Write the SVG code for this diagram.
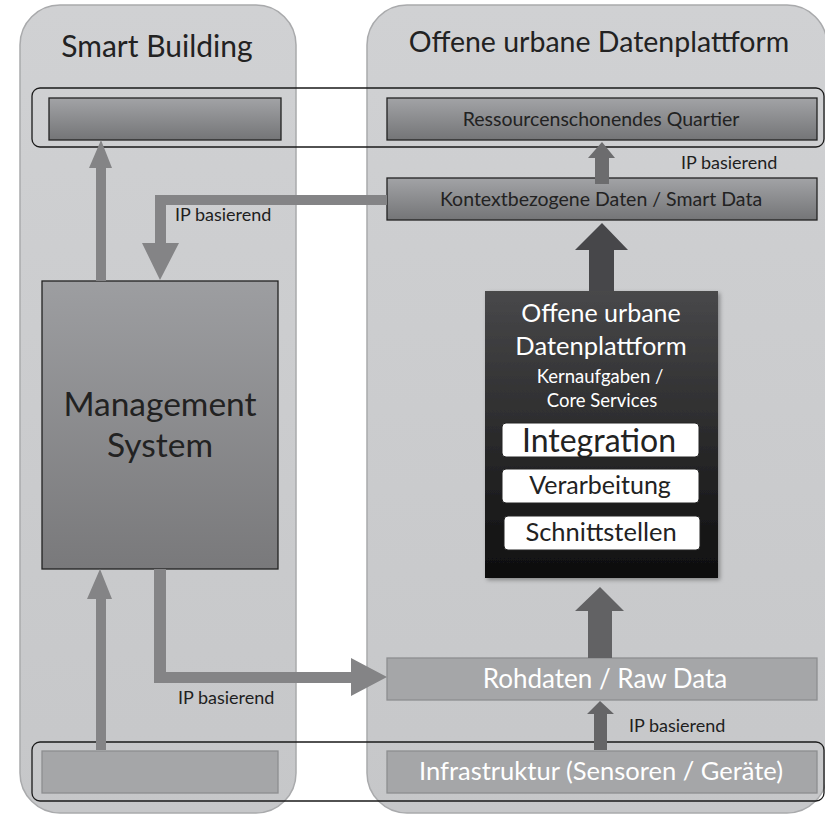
<svg xmlns="http://www.w3.org/2000/svg" width="825" height="815" viewBox="0 0 825 815">
<defs>
<linearGradient id="gBar" x1="0" y1="0" x2="0" y2="1"><stop offset="0" stop-color="#a2a3a6"/><stop offset="1" stop-color="#747577"/></linearGradient>
<linearGradient id="gMgmt" x1="0" y1="0" x2="0" y2="1"><stop offset="0" stop-color="#9d9ea1"/><stop offset="1" stop-color="#79797b"/></linearGradient>
<linearGradient id="gBlack" x1="0" y1="0" x2="0" y2="1"><stop offset="0" stop-color="#48484a"/><stop offset="1" stop-color="#0e0e0e"/></linearGradient>
<linearGradient id="gPanel" x1="0" y1="0" x2="0" y2="1"><stop offset="0" stop-color="#d0d1d3"/><stop offset="1" stop-color="#c6c7c9"/></linearGradient>
<filter id="sh" x="-10%" y="-10%" width="130%" height="130%"><feDropShadow dx="2" dy="2" stdDeviation="2" flood-color="#000" flood-opacity="0.35"/></filter>
</defs>
<style>
text{font-family:Lato,"Open Sans","Liberation Sans",sans-serif;}
.panel{fill:url(#gPanel);stroke:#a9aaac;stroke-width:1.5;}
.grp{fill:none;stroke:#1a1a1a;stroke-width:1.3;}
.bar{fill:url(#gBar);stroke:#222;stroke-width:1.3;}
.lbar{fill:#a5a6a8;stroke:#8d8e90;stroke-width:1.3;}
.wbox{fill:#fff;stroke:#222;stroke-width:1;}
.dk{fill:#222;}
.wt{fill:#fff;}
.ip{font-size:18px;fill:#1e1e1e;}
</style>
<g id="panel-smart-building">
<rect class="panel" x="20" y="5" width="276" height="808" rx="40"/>
<text x="157" y="57" text-anchor="middle" font-size="30" class="dk">Smart Building</text>
</g>
<g id="panel-datenplattform">
<rect class="panel" x="367" y="5" width="460" height="808" rx="40"/>
<text x="599" y="52" text-anchor="middle" font-size="28.5" class="dk">Offene urbane Datenplattform</text>
</g>
<g id="group-top"><rect class="grp" x="32" y="88" width="792" height="59" rx="8"/></g>
<g id="group-bottom"><rect class="grp" x="32" y="742" width="792" height="59" rx="8"/></g>
<g id="sb-top"><rect class="bar" x="49" y="98" width="232" height="42"/></g>
<g id="quartier">
<rect class="bar" x="387" y="98" width="430" height="42"/>
<text x="601" y="126" text-anchor="middle" font-size="19.5" class="dk">Ressourcenschonendes Quartier</text>
</g>
<g id="smartdata">
<rect class="bar" x="387" y="178" width="430" height="42"/>
<text x="601" y="206" text-anchor="middle" font-size="19.5" class="dk">Kontextbezogene Daten / Smart Data</text>
</g>
<g id="management">
<rect x="42" y="281" width="236" height="288" fill="url(#gMgmt)" stroke="#222" stroke-width="1.3"/>
<text x="160" y="416" text-anchor="middle" font-size="33.5" class="dk">Management</text>
<text x="160" y="457" text-anchor="middle" font-size="33.5" class="dk">System</text>
</g>
<g id="sb-bottom"><rect class="lbar" x="42" y="751" width="236" height="42"/></g>
<g id="rohdaten">
<rect class="lbar" x="387" y="658" width="430" height="42"/>
<text x="605" y="688" text-anchor="middle" font-size="26" class="wt">Rohdaten / Raw Data</text>
</g>
<g id="infrastruktur">
<rect class="lbar" x="387" y="751" width="430" height="42"/>
<text x="601" y="780" text-anchor="middle" font-size="25.5" class="wt">Infrastruktur (Sensoren / Geräte)</text>
</g>
<g id="core">
<rect x="485" y="291" width="233" height="287" fill="url(#gBlack)" filter="url(#sh)"/>
<text x="601" y="322" text-anchor="middle" font-size="25" class="wt">Offene urbane</text>
<text x="601" y="355" text-anchor="middle" font-size="25.5" class="wt">Datenplattform</text>
<text x="600" y="383" text-anchor="middle" font-size="18.5" class="wt">Kernaufgaben /</text>
<text x="602" y="407" text-anchor="middle" font-size="18.5" class="wt">Core Services</text>
<rect class="wbox" x="502" y="423" width="197" height="34" rx="4"/>
<text x="599" y="452" text-anchor="middle" font-size="32" class="dk">Integration</text>
<rect class="wbox" x="502" y="469" width="197" height="34" rx="4"/>
<text x="600" y="494" text-anchor="middle" font-size="25" class="dk">Verarbeitung</text>
<rect class="wbox" x="504" y="516" width="196" height="34" rx="4"/>
<text x="601" y="541" text-anchor="middle" font-size="25.5" class="dk">Schnittstellen</text>
</g>
<g id="connectors">
<polygon fill="#848486" points="387,195 155,195 155,243 142,243 160,280 179,243 166,243 166,205 387,205"/>
<polygon fill="#848486" points="96,281 96,168 89,168 101,140 112,168 106,168 106,281"/>
<polygon fill="#848486" points="96,750 96,599 87,599 100,569 112,599 106,599 106,750"/>
<polygon fill="#848486" points="154,569 154,683 351,683 351,696 387,677 351,658 351,672 166,672 166,569"/>
<polygon fill="#6c6c6e" points="595,184 595,158 588,158 602,142 615,158 609,158 609,184"/>
<polygon fill="#47474a" points="589,291 589,250 575,250 602,223 628,250 614,250 614,291"/>
<polygon fill="#626264" points="588,658 588,611 575,611 600,587 624,611 612,611 612,658"/>
<polygon fill="#656567" points="594,750 594,714 587,714 600,701 614,714 607,714 607,750"/>
<text class="ip" x="175" y="221">IP basierend</text>
<text class="ip" x="681" y="169">IP basierend</text>
<text class="ip" x="178" y="704">IP basierend</text>
<text class="ip" x="629" y="732">IP basierend</text>
</g>
</svg>
